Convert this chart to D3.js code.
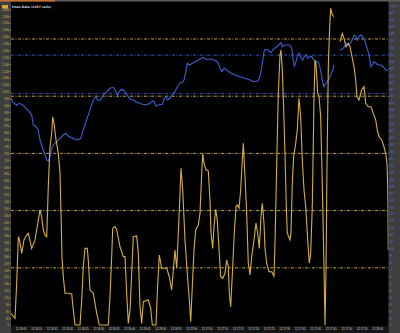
<!DOCTYPE html>
<html>
<head>
<meta charset="utf-8">
<script src="https://cdn.jsdelivr.net/npm/d3@7"></script>
<style>
  body { margin: 0; background: #000; }
  svg { display: block; font-family: "DejaVu Sans", sans-serif; }
</style>
</head>
<body>
<div id="chart"></div>
<script>

// peak data (yellow, left axis): seconds after 12:26:00 and value
var peakSecs = [1.87, 3.16, 3.71, 4.23, 4.55, 5.32, 6.06, 6.94, 7.45, 8.55, 9.61, 10.68, 11.23, 11.77, 12.29, 12.84, 13.39, 13.90,
  14.45, 15.0, 15.32, 15.74, 16.39, 17.13, 17.68, 18.0, 18.32, 18.74, 19.29, 20.35, 21.45, 21.97, 22.52, 24.13, 24.68, 25.19,
  25.74, 26.48, 26.81, 27.35, 28.42, 29.52, 30.35, 33.26, 33.81, 34.35, 34.68, 35.42, 35.97, 37.03, 38.10, 38.65, 39.19, 39.71,
  40.26, 40.81, 41.32, 42.42, 42.94, 43.48, 44.03, 44.55, 46.16, 46.94, 47.45, 48.65, 49.06, 49.71, 50.48, 52.10, 52.94, 53.71,
  54.23, 54.77, 55.32, 55.84, 56.39, 56.71, 57.26, 58.0, 58.74, 59.39, 59.84, 60.26, 60.90, 61.45, 62.29, 62.84, 63.39, 63.71,
  64.13, 64.77, 65.52, 66.06, 66.39, 66.94, 67.35, 67.90, 68.42, 69.06, 69.52, 70.16, 70.90, 71.45, 71.97, 72.29, 72.74, 73.39,
  73.90, 74.45, 74.87, 75.42, 75.97, 76.48, 76.81, 77.35, 77.90, 78.42, 78.97, 79.52, 80.26, 80.90, 81.45, 81.97, 82.52, 82.94,
  83.48, 83.81, 84.35, 85.10, 85.97, 86.71, 87.03, 87.35, 87.68, 88.10, 88.65, 88.97, 89.39, 89.84, 90.26, 90.68, 91.0, 91.87,
  92.19, 92.61, 93.06, 93.71, 94.23, 94.77, 95.32, 95.84, 96.39, 96.94, 97.58, 98.10, 98.55, 99.06, 99.61, 99.94, 100.26, 100.81,
  101.23, 101.77, 102.29, 102.84, 103.16, 103.48, 103.81, 104.23, 104.68, 105.0, 105.52, 106.06, 107.0, 108.0, 108.74, 109.29,
  109.94, 110.68, 111.23, 111.97, 112.52, 113.06, 113.48, 114.13, 115.0, 115.74, 116.29, 117.13, 118.0, 118.74, 119.52, 120.03,
  120.58, 121.45, 122.19, 122.74, 123.16, 123.39, 123.48, 123.58];
var peakValues = [51, 29, 182, 386, 375, 313, 372, 393, 401, 335, 372, 459, 503, 473, 415, 393, 386, 605,
  779, 838, 910, 882, 809, 750, 663, 488, 299, 211, 139, 139, 136, 66, 0, 0, 109, 255,
  335, 335, 284, 153, 139, 51, 0, 0, 124, 299, 423, 430, 415, 342, 299, 299, 139, 7,
  66, 226, 386, 389, 313, 80, 7, 102, 109, 73, 0, 0, 139, 306, 248, 248, 211, 153,
  240, 328, 248, 401, 576, 685, 590, 372, 226, 109, 14, 139, 328, 415, 437, 488, 663, 747,
  707, 678, 674, 546, 401, 335, 430, 506, 459, 313, 211, 204, 226, 284, 255, 139, 80, 255,
  401, 517, 525, 510, 590, 721, 794, 648, 488, 270, 219, 299, 372, 445, 401, 335, 473, 532,
  445, 335, 270, 233, 233, 214, 357, 546, 765, 1013, 1180, 1202, 1115, 940, 750, 517, 401, 372,
  401, 619, 736, 794, 852, 991, 910, 721, 590, 517, 372, 270, 313, 517, 983, 1158, 1144, 1013,
  998, 910, 619, 255, 0, 226, 692, 1129, 1304, 1384, 1355, 1348, null, 1238, 1275, 1253,
  1216, 1231, 1216, 1166, 1129, 1071, 998, 983, 1027, 1042, 969, 954, 954, 925, 896, 852,
  823, 809, 779, 750, 707, 605, 503, 328];

// speed (blue, right axis, mph)
var speedSecs = [1.87, 2.61, 3.71, 4.55, 5.65, 6.71, 7.77, 8.55, 9.06, 9.94, 10.68, 11.23, 12.10, 12.84, 13.39, 13.90, 14.45,
  15.0, 15.52, 16.61, 17.68, 18.74, 19.52, 20.35, 21.45, 22.52, 23.58, 24.35, 25.19, 26.06, 26.81, 27.58, 28.42, 29.19, 29.84,
  30.58, 31.65, 32.74, 33.81, 34.87, 35.42, 36.16, 36.81, 37.58, 38.65, 39.71, 40.48, 41.32, 42.42, 44.03, 45.42, 46.71, 47.58,
  48.0, 48.65, 49.39, 50.68, 51.32, 51.87, 52.42, 53.16, 54.03, 54.77, 55.52, 56.39, 57.13, 57.68, 58.23, 58.74, 59.39, 60.68,
  61.77, 62.84, 63.71, 64.77, 66.61, 68.0, 68.74, 69.29, 69.84, 70.68, 71.45, 72.52, 74.13, 75.74, 77.35, 78.97, 80.26, 81.65,
  82.42, 82.94, 83.48, 83.81, 84.87, 85.74, 86.48, 87.58, 88.32, 88.97, 89.39, 90.03, 91.87, 92.42, 92.84, 93.26, 93.81, 94.35,
  94.87, 95.42, 95.97, 96.48, 97.03, 97.58, 98.32, 98.87, 99.52, 100.16, 101.0, 101.77, 102.29, 102.84, 103.48, 104.23, 105.0,
  105.65, 106.06, 107.0, 108.0, 108.74, 109.39, 110.03, 110.68, 111.32, 111.97, 112.52, 113.06, 113.58, 114.13, 114.68, 115.19,
  115.74, 116.29, 116.94, 117.45, 118.0, 118.42, 118.97, 119.61, 120.35, 121.13, 121.97, 122.74, 123.39];
var speedValues = [29.40, 28.83, 28.53, 28.75, 28.53, 28.10, 27.66, 27.23, 25.94, 25.72, 25.29, 23.99, 22.92, 22.05, 21.40, 21.31, 21.83,
  22.92, 23.34, 23.77, 24.21, 24.64, 24.86, 24.51, 24.29, 24.08, 23.99, 24.21, 25.29, 26.37, 27.23, 28.23, 29.18, 29.61, 29.18,
  29.09, 29.83, 30.26, 30.70, 30.83, 30.48, 29.83, 30.26, 30.57, 30.26, 29.61, 29.27, 29.18, 28.88, 28.66, 28.53, 28.75, 29.09,
  28.96, 28.40, 28.53, 28.62, 29.40, 29.61, 29.18, 29.40, 29.92, 30.26, 30.90, 31.42, 31.42, 31.77, 32.85, 33.94, 33.72, 34.02,
  34.28, 34.46, 34.72, 34.46, 34.46, 34.28, 33.94, 33.29, 32.85, 33.29, 33.07, 32.72, 32.42, 32.20, 31.99, 31.77, 31.55, 31.68,
  32.64, 33.94, 35.44, 35.76, 35.66, 35.31, 35.76, 36.09, 36.31, 36.61, 36.09, 36.31, 36.31, 35.88, 34.59, 33.50, 34.15, 35.02,
  35.24, 34.59, 34.37, 34.80, 35.02, 34.59, 34.80, 34.80, 34.37, 34.15, 34.15, 33.07, 31.77, 30.90, 31.35, 31.77, 32.42,
  33.07, 33.72, null, 35.66, 35.76, 36.09, 36.53, 36.31, 36.53, 36.96, 37.61, 37.48, 36.96, 37.39, 37.61, 37.48,
  37.18, 36.53, 35.66, 34.80, 33.50, 33.72, 34.15, 33.94, 33.72, 33.72, 33.50, 33.07, 32.98];

var peakLevels = [250, 500, 750, 1000, 1250];
var speedLevels = [30, 35];
var timeTicks = d3.range(5, 121, 5);      // every 5 s, 12:26:05 .. 12:28:00
var peakTicks = d3.range(0, 1381, 30);
var speedTicks = d3.range(46).map(function(i) { return +(i * 0.9).toFixed(1); });

var yellow = "#d4b043", blue = "#3b5fd0";

var width = 400, height = 333,
    plot = {left: 11, right: 388.5, top: 2, bottom: 326};

var x = d3.scaleLinear().domain([1.87, 123.65]).range([plot.left, plot.right]);
var yPeak = d3.scaleLinear().domain([0, 1410]).range([325, 2.4]);
var ySpeed = d3.scaleLinear().domain([0, 41.8]).range([325, 2.7]);

function timeLabel(s) {
  var t = 26 * 60 + s, m = Math.floor(t / 60), sec = t % 60;
  return "12:" + m + ":" + (sec < 10 ? "0" : "") + sec;
}

var svg = d3.select("#chart")
  .append("svg")
    .attr("width", width)
    .attr("height", height);

svg.append("rect").attr("width", width).attr("height", height).attr("fill", "#000");

// side panels and bottom strip
svg.append("rect").attr("x", 0).attr("y", 0).attr("width", plot.left).attr("height", height).attr("fill", "#3e3e3e");
svg.append("rect").attr("x", plot.right).attr("y", 0).attr("width", width - plot.right).attr("height", height).attr("fill", "#3e3e3e");
svg.append("rect").attr("x", plot.left).attr("y", plot.bottom).attr("width", plot.right - plot.left)
  .attr("height", height - plot.bottom).attr("fill", "#161616");
svg.append("rect").attr("x", 0).attr("y", 0).attr("width", width).attr("height", 1.5).attr("fill", "#5c5c5c");
svg.append("rect").attr("x", 0).attr("y", 0).attr("width", 55).attr("height", 1.5).attr("fill", "#c8702a");

svg.append("clipPath").attr("id", "clip")
  .append("rect")
    .attr("x", plot.left).attr("y", plot.top)
    .attr("width", plot.right - plot.left).attr("height", plot.bottom - plot.top);

// level lines
svg.append("g").selectAll("line")
  .data(peakLevels)
  .enter().append("line")
    .attr("x1", plot.left).attr("x2", plot.right)
    .attr("y1", function(d) { return yPeak(d); })
    .attr("y2", function(d) { return yPeak(d); })
    .attr("stroke", yellow)
    .attr("stroke-width", 0.9)
    .attr("stroke-dasharray", "3,1.5,1,1.5");

svg.append("g").selectAll("line")
  .data(speedLevels)
  .enter().append("line")
    .attr("x1", plot.left).attr("x2", plot.right)
    .attr("y1", function(d) { return ySpeed(d); })
    .attr("y2", function(d) { return ySpeed(d); })
    .attr("stroke", blue)
    .attr("stroke-width", 0.9)
    .attr("stroke-dasharray", "3,1.5,1,1.5");

// series
var speedData = speedSecs.map(function(s, i) { return [s, speedValues[i]]; });
var peakData = peakSecs.map(function(s, i) { return [s, peakValues[i]]; });

svg.append("path")
    .datum(speedData)
    .attr("clip-path", "url(#clip)")
    .attr("fill", "none")
    .attr("stroke", blue)
    .attr("stroke-width", 1.1)
    .attr("d", d3.line()
      .defined(function(d) { return d[1] != null; })
      .x(function(d) { return x(d[0]); })
      .y(function(d) { return ySpeed(d[1]); }));

svg.append("path")
    .datum(peakData)
    .attr("clip-path", "url(#clip)")
    .attr("fill", "none")
    .attr("stroke", yellow)
    .attr("stroke-width", 1.1)
    .attr("d", d3.line()
      .defined(function(d) { return d[1] != null; })
      .x(function(d) { return x(d[0]); })
      .y(function(d) { return yPeak(d[1]); }));

// axes
var leftAxis = svg.append("g")
    .attr("transform", "translate(" + plot.left + ",0)")
    .call(d3.axisLeft(yPeak).tickValues(peakTicks).tickSize(1.5).tickPadding(0.6));
leftAxis.select(".domain").remove();
leftAxis.selectAll("line").attr("stroke", yellow).attr("stroke-width", 0.6);
leftAxis.selectAll("text").attr("fill", yellow).style("font-size", "2.8px").attr("dy", "0.35em");

var rightAxis = svg.append("g")
    .attr("transform", "translate(" + plot.right + ",0)")
    .call(d3.axisRight(ySpeed).tickValues(speedTicks).tickSize(1.5).tickPadding(0.6));
rightAxis.select(".domain").remove();
rightAxis.selectAll("line").attr("stroke", "#5b7be0").attr("stroke-width", 0.6);
rightAxis.selectAll("text").attr("fill", "#5b7be0").style("font-size", "2.8px").attr("dy", "0.35em");

var bottomAxis = svg.append("g")
    .attr("transform", "translate(0," + plot.bottom + ")")
    .call(d3.axisBottom(x).tickValues(timeTicks).tickFormat(timeLabel).tickSize(0).tickPadding(1.6));
bottomAxis.select(".domain").remove();
bottomAxis.selectAll("text").attr("fill", "#d0d0d0").style("font-size", "2.8px");

// header
svg.append("rect").attr("x", 2).attr("y", 5).attr("width", 6).attr("height", 3.5).attr("fill", "#d8a838");
svg.append("text")
    .attr("x", 12).attr("y", 7.6)
    .attr("fill", "#dcdcdc")
    .style("font-size", "3.1px")
    .style("font-weight", "bold")
    .text("Peak Data (1457 cells)");

svg.append("text")
    .attr("x", 390.5).attr("y", 6.8)
    .attr("fill", "#5b7be0")
    .style("font-size", "2.8px")
    .text("mph");

</script>
</body>
</html>
